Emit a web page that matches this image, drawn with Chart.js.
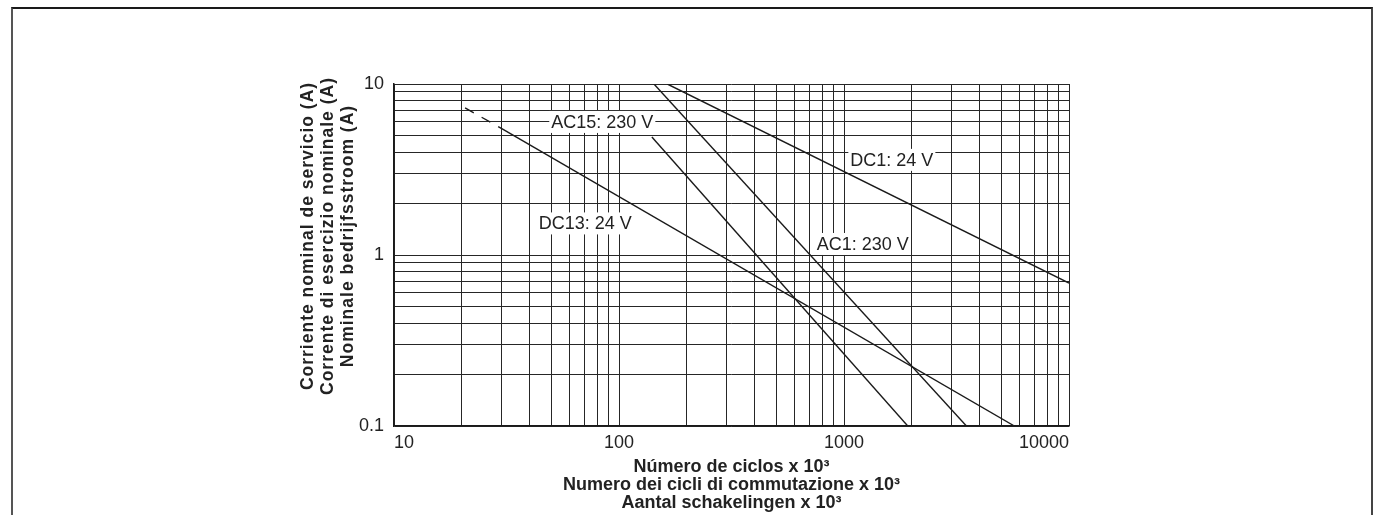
<!DOCTYPE html>
<html><head><meta charset="utf-8">
<script src="https://cdn.jsdelivr.net/npm/chart.js@4.4.1/dist/chart.umd.min.js"></script>
<style>
html,body{margin:0;padding:0;background:#fff;overflow:hidden;}
#frame{position:absolute;left:11px;top:7px;width:1358px;height:530px;border-top:2px solid #1a1a1a;border-left:2px solid #555;border-right:2px solid #444;}
#wrap{position:absolute;left:0;top:0;width:1373px;height:515px;}
</style></head><body>
<div id="frame"></div>
<div id="wrap"><canvas id="c"></canvas></div>
<script>
// grid values (tick positions)
const xGrid = [10,20,30,40,50,60,70,80,90,100,200,300,400,500,600,700,800,900,1000,2000,3000,4000,5000,6000,7000,8000,9000,10000];
const yGrid = [0.1,0.2,0.3,0.4,0.5,0.6,0.7,0.8,0.9,1,2,3,4,5,6,7,8,9,10];
const xTickLabels = [10,100,1000,10000];
const yTickLabels = [0.1,1,10];

// series (x = cycles x 10^3, y = current A)
const dc13DashX = [20.7, 30];
const dc13DashY = [7.25, 5.5];
const dc13X = [30, 5720];
const dc13Y = [5.5, 0.1];
const ac15X = [140, 1920];
const ac15Y = [4.9, 0.1];
const ac1X = [143, 3500];
const ac1Y = [10, 0.1];
const dc1X = [164, 10000];
const dc1Y = [10, 0.685];

// in-chart labels
const seriesLabels = ['AC15: 230 V', 'DC13: 24 V', 'DC1: 24 V', 'AC1: 230 V'];
const labelX = [50, 44, 1067, 757];
const labelY = [6.0, 1.53, 3.6, 1.16];

const xTitle = ['Número de ciclos x 10³', 'Numero dei cicli di commutazione x 10³', 'Aantal schakelingen x 10³'];
const yTitle = ['Corriente nominal de servicio (A)', 'Corrente di esercizio nominale (A)', 'Nominale bedrijfsstroom (A)'];

const FAM = '"Liberation Sans", Arial, Helvetica, sans-serif';
const INK = '#222';
Chart.defaults.font.family = FAM;

const pts = (xs, ys) => xs.map((x, i) => ({x: x, y: ys[i]}));
const lineDs = (xs, ys, dash) => ({
  data: pts(xs, ys), borderColor: '#1a1a1a', borderWidth: 1.4,
  pointRadius: 0, tension: 0, fill: false, borderDash: dash || []
});

const labelPlugin = {
  id: 'lineLabels',
  afterDatasetsDraw(chart) {
    const ctx = chart.ctx, xs = chart.scales.x, ys = chart.scales.y;
    ctx.save();
    ctx.font = '18px ' + FAM;
    ctx.textBaseline = 'middle';
    ctx.textAlign = 'left';
    seriesLabels.forEach((t, i) => {
      const px = xs.getPixelForValue(labelX[i]);
      const py = ys.getPixelForValue(labelY[i]);
      const w = ctx.measureText(t).width;
      ctx.fillStyle = '#fff';
      ctx.fillRect(px - 2, py - 11, w + 4, 22);
      ctx.fillStyle = INK;
      ctx.fillText(t, px, py + 1);
    });
    ctx.restore();
  }
};

const yTitlePlugin = {
  id: 'yTitle',
  afterDraw(chart) {
    const ctx = chart.ctx, a = chart.chartArea;
    ctx.save();
    ctx.font = 'bold 17.5px ' + FAM;
    ctx.fillStyle = INK;
    ctx.textAlign = 'center';
    ctx.textBaseline = 'alphabetic';
    try { ctx.letterSpacing = '1px'; } catch (e) {}
    const cy = a.top + 152;
    yTitle.forEach((t, i) => {
      ctx.save();
      ctx.translate(a.left - 81 + i * 20, cy);
      ctx.rotate(-Math.PI / 2);
      ctx.fillText(t, 0, 0);
      ctx.restore();
    });
    ctx.restore();
  }
};

new Chart(document.getElementById('c'), {
  type: 'line',
  data: {
    datasets: [
      lineDs(dc13DashX, dc13DashY, [10, 9]),
      lineDs(dc13X, dc13Y),
      lineDs(ac15X, ac15Y),
      lineDs(ac1X, ac1Y),
      lineDs(dc1X, dc1Y)
    ]
  },
  options: {
    responsive: true, maintainAspectRatio: false, animation: false,
    layout: {padding: {left: 0, right: 304, top: 84, bottom: 0}},
    plugins: {legend: {display: false}, tooltip: {enabled: false}},
    scales: {
      x: {
        type: 'logarithmic', min: 10, max: 10000,
        afterBuildTicks: s => { s.ticks = xGrid.map(v => ({value: v})); },
        afterFit: s => { s.height = 89; },
        ticks: {
          autoSkip: false, maxRotation: 0, minRotation: 0, align: 'inner', padding: 6,
          color: INK, font: {size: 18},
          callback: v => xTickLabels.includes(v) ? String(v) : ''
        },
        grid: {color: '#262626', lineWidth: 1, drawTicks: false},
        border: {color: '#1a1a1a', width: 1.5},
        title: {display: true, text: xTitle, color: INK,
          font: {size: 18, weight: 'bold', lineHeight: '18px'}, padding: {top: 0, bottom: 3}}
      },
      y: {
        type: 'logarithmic', min: 0.1, max: 10,
        afterBuildTicks: s => { s.ticks = yGrid.map(v => ({value: v})); },
        afterFit: s => { s.width = 394; },
        ticks: {
          autoSkip: false, padding: 10, color: INK, font: {size: 18},
          callback: v => yTickLabels.includes(v) ? String(v) : ''
        },
        grid: {color: '#262626', lineWidth: 1, drawTicks: false},
        border: {color: '#1a1a1a', width: 1.5}
      }
    }
  },
  plugins: [labelPlugin, yTitlePlugin]
});
</script>
</body></html>
